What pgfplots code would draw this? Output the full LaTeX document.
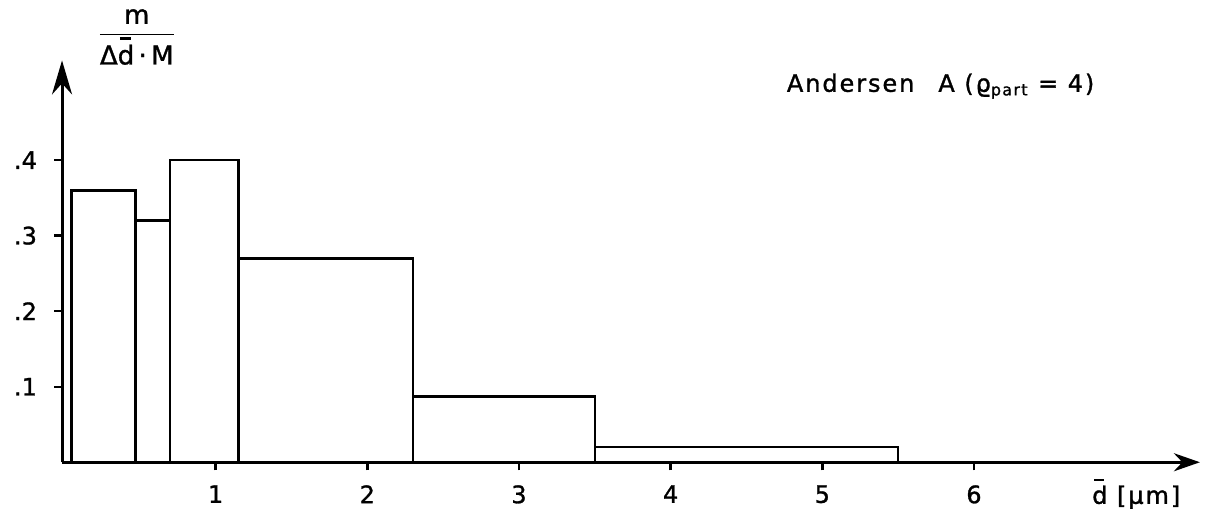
\documentclass[border=0pt]{standalone}
\usepackage{amsmath}
\usepackage{fontspec}
\setmainfont[FakeBold=1.2]{DejaVu Sans}
\usepackage{pgfplots}
\pgfplotsset{compat=1.18}
\usetikzlibrary{arrows.meta}
% d with a short bar over it, drawn as a rule
\newcommand{\dbar}{\makebox[0pt][l]{\hspace{0.08em}\raisebox{0.95em}{\rule{0.42em}{0.09em}}}d}

\begin{document}
\begin{tikzpicture}
\begin{axis}[
    x=75.8pt, y=377.5pt,
    xmin=-0.013, xmax=7.49,
    ymin=0, ymax=0.532,
    axis lines=left,
    axis line style={line width=1.5pt},
    x axis line style={-{Stealth[length=13pt,width=9pt]}},
    y axis line style={-{Stealth[length=17pt,width=10pt]}},
    clip=false,
    xtick={1,2,3,4,5,6},
    ytick={0.1,0.2,0.3,0.4},
    yticklabels={.1,.2,.3,.4},
    tick align=outside,
    major tick length=4pt,
    tick style={line width=1.2pt, black},
    /pgf/number format/assume math mode=true,
    tick label style={font=\fontsize{12}{14}\selectfont},
    xticklabel style={yshift=-4pt},
    yticklabel style={xshift=-5pt},
]
\addplot[ybar interval, draw=black, fill=none, line width=1.3pt]
  coordinates {(0.05,0.36) (0.47,0.32) (0.70,0.40) (1.15,0.27)
               (2.30,0.087) (3.50,0.02) (5.50,0.02)};

\node[font=\fontsize{13}{15}\selectfont] at (axis cs:0.48,0.563)
  {$\dfrac{\text{m}}{\text{Δ\dbar\,·\,M}}$};
\node[font=\fontsize{12}{14}\selectfont\addfontfeature{LetterSpace=8}, anchor=west]
  at (axis cs:4.72,0.498) {Andersen\quad A (ϱ\textsubscript{part} = 4)};
\node[font=\fontsize{12}{14}\selectfont\addfontfeature{LetterSpace=8}, anchor=base]
  at (axis cs:7.07,-0.055) {\dbar\ [µm]};

\coordinate (bl) at (axis cs:-0.422,-0.082);
\coordinate (tr) at (axis cs:7.53,0.612);
\end{axis}
\pgfresetboundingbox
\useasboundingbox (bl) rectangle (tr);
\end{tikzpicture}
\end{document}
